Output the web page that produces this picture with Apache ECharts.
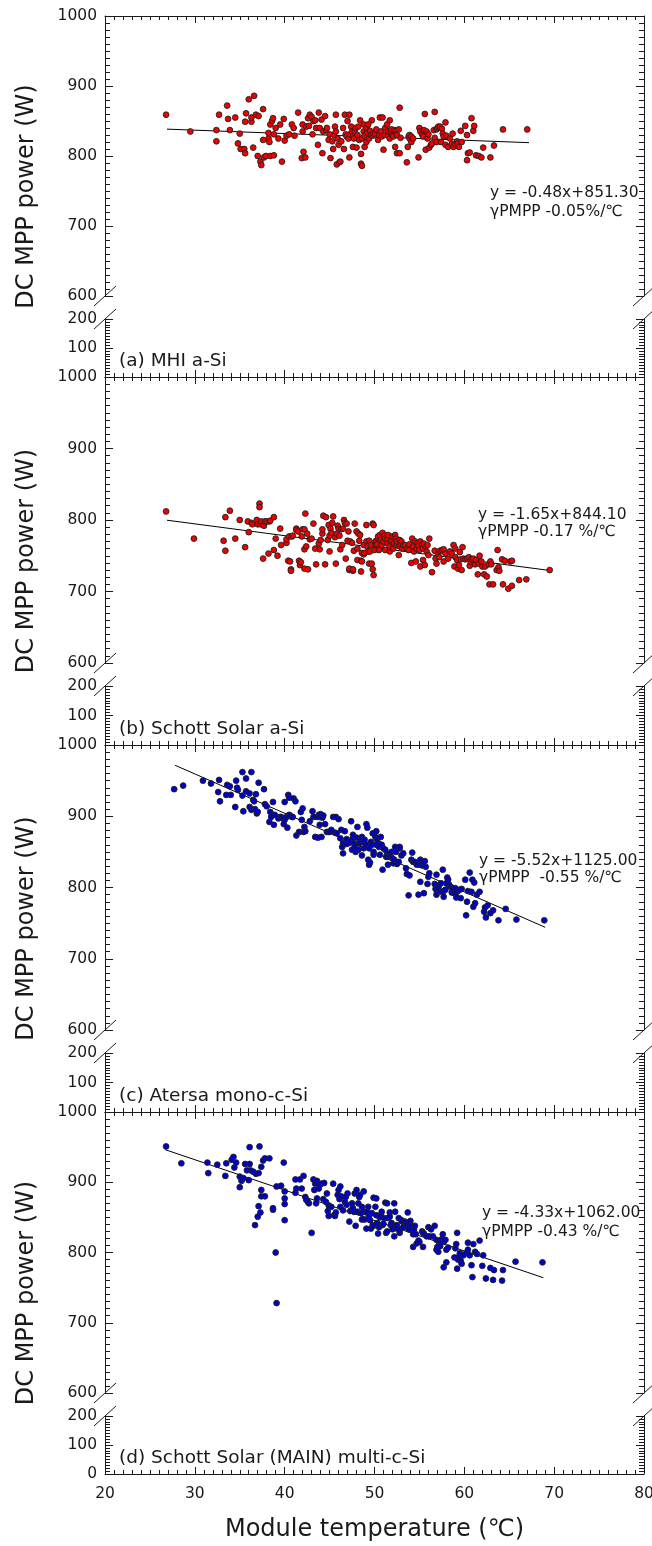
<!DOCTYPE html>
<html>
<head>
<meta charset="utf-8">
<script src="https://cdn.jsdelivr.net/npm/echarts@6/dist/echarts.min.js"></script>
<style>
  html, body { margin: 0; padding: 0; background: #fff; }
  #wrap { position: relative; width: 652px; height: 1546px; }
  #frame, #plot { position: absolute; left: 0; top: 0; width: 652px; height: 1546px; }
</style>
</head>
<body>
<div id="wrap">
  <div id="frame"></div>
  <div id="plot"></div>
</div>
<script>
// ---- Data: module temperature (°C) vs DC MPP power (W) -------------------
const panelNames = ['(a) MHI a-Si', '(b) Schott Solar a-Si', '(c) Atersa mono-c-Si', '(d) Schott Solar (MAIN) multi-c-Si'];
const fitText = [
  ['y = -0.48x+851.30', 'γPMPP -0.05%/℃'],
  ['y = -1.65x+844.10', 'γPMPP -0.17 %/℃'],
  ['y = -5.52x+1125.00', 'γPMPP  -0.55 %/℃'],
  ['y = -4.33x+1062.00', 'γPMPP -0.43 %/℃']
];
const fitSlope = [-0.48, -1.65, -5.52, -4.33];
const fitIntercept = [851.30, 844.10, 1125.00, 1062.00];
const fitRange = [[26.9, 67.2], [26.9, 69.5], [27.8, 69.0], [26.7, 68.8]];

const pointsA = [[26.8,859],[29.5,835],[32.4,837],[32.4,821],[32.7,859],[33.6,872],[33.7,853],[33.9,837],[34.5,855],[34.8,818],[35.0,832],[35.1,810],[35.5,810],[35.6,804],[35.6,849],[35.7,861],[36.0,881],[36.3,849],[36.3,855],[36.5,812],[36.6,886],[36.8,859],[37.0,800],[37.1,857],[37.3,792],[37.4,787],[37.6,867],[37.6,823],[37.7,798],[37.9,800],[38.2,825],[38.2,833],[38.3,820],[38.4,845],[38.4,800],[38.6,850],[38.7,854],[38.8,801],[38.8,831],[39.0,840],[39.3,825],[39.5,845],[39.7,792],[39.9,853],[40.0,822],[40.2,829],[40.5,831],[40.8,845],[41.0,840],[41.1,829],[41.5,862],[41.9,797],[42.0,835],[42.0,845],[42.1,806],[42.3,798],[42.4,842],[42.6,854],[42.7,843],[42.8,859],[43.0,856],[43.1,831],[43.2,850],[43.4,851],[43.5,840],[43.7,816],[43.8,862],[43.9,840],[44.1,852],[44.2,804],[44.3,835],[44.5,857],[44.6,837],[44.7,840],[44.9,823],[45.0,831],[45.1,797],[45.3,821],[45.4,810],[45.5,830],[45.6,842],[45.7,859],[45.7,835],[45.8,788],[45.9,825],[46.0,816],[46.1,791],[46.2,792],[46.3,821],[46.5,840],[46.6,810],[46.7,859],[46.8,831],[46.9,828],[47.0,850],[47.1,825],[47.2,859],[47.2,798],[47.3,831],[47.4,842],[47.5,835],[47.6,828],[47.6,813],[47.7,825],[47.8,835],[47.9,840],[48.0,812],[48.1,830],[48.2,842],[48.3,823],[48.4,851],[48.5,789],[48.5,803],[48.6,786],[48.6,825],[48.8,835],[48.8,845],[48.9,829],[48.9,813],[49.1,840],[49.1,820],[49.2,833],[49.3,845],[49.4,825],[49.5,836],[49.6,830],[49.7,851],[49.8,829],[49.9,832],[50.1,831],[50.2,838],[50.4,823],[50.5,830],[50.6,855],[50.7,835],[50.8,828],[50.9,855],[51.0,809],[51.1,830],[51.2,840],[51.4,845],[51.5,829],[51.5,835],[51.7,851],[51.7,825],[51.8,835],[51.9,838],[52.0,830],[52.1,828],[52.2,837],[52.3,813],[52.4,836],[52.5,804],[52.5,830],[52.7,838],[52.8,869],[52.8,804],[52.9,826],[53.6,791],[53.7,813],[53.8,828],[53.9,825],[53.9,830],[54.1,820],[54.1,828],[54.3,825],[54.9,798],[55.0,840],[55.1,835],[55.3,831],[55.4,828],[55.5,837],[55.6,860],[55.7,809],[55.8,835],[55.9,825],[56.0,831],[56.1,812],[56.3,816],[56.4,818],[56.6,837],[56.7,863],[56.7,826],[56.9,838],[56.9,820],[57.0,840],[57.1,842],[57.3,842],[57.4,820],[57.5,839],[57.6,832],[57.7,828],[57.9,848],[57.9,816],[58.0,829],[58.2,813],[58.4,825],[58.6,817],[58.7,832],[58.8,813],[59.0,817],[59.2,821],[59.3,818],[59.4,813],[59.6,836],[59.7,820],[60.1,843],[60.3,794],[60.3,830],[60.4,804],[60.6,805],[60.8,854],[61.0,836],[61.1,843],[61.3,801],[61.6,800],[61.9,798],[62.1,812],[62.9,798],[63.3,815],[64.3,838],[67.0,838]];

const pointsB = [[26.8,812],[29.9,774],[33.2,771],[33.4,804],[33.4,757],[33.9,813],[34.5,774],[35.0,800],[35.6,762],[35.9,798],[36.0,783],[36.3,796],[36.4,794],[36.9,800],[37.0,794],[37.2,823],[37.2,818],[37.3,794],[37.4,798],[37.6,746],[37.7,792],[37.8,798],[38.0,798],[38.2,753],[38.3,798],[38.4,799],[38.8,804],[38.8,758],[39.0,774],[39.2,750],[39.5,788],[39.6,765],[40.2,768],[40.2,773],[40.4,743],[40.5,777],[40.6,742],[40.7,731],[40.7,729],[40.8,777],[40.9,778],[41.3,788],[41.3,786],[41.5,784],[41.6,743],[41.7,737],[41.8,741],[41.9,777],[42.0,787],[42.2,732],[42.2,759],[42.2,787],[42.3,809],[42.4,763],[42.5,781],[42.6,731],[42.8,773],[43.0,774],[43.2,795],[43.4,760],[43.5,738],[43.8,767],[43.9,759],[44.0,772],[44.2,781],[44.2,787],[44.3,806],[44.5,738],[44.6,804],[44.8,772],[44.9,793],[45.0,778],[45.0,756],[45.1,788],[45.2,782],[45.3,796],[45.4,805],[45.6,776],[45.7,739],[45.8,781],[45.9,792],[46.0,788],[46.1,778],[46.2,759],[46.3,787],[46.4,765],[46.5,788],[46.6,800],[46.7,796],[46.8,746],[46.9,795],[47.0,771],[47.1,784],[47.2,730],[47.2,732],[47.3,770],[47.5,768],[47.6,729],[47.6,731],[47.7,757],[47.8,795],[48.0,784],[48.1,744],[48.1,760],[48.2,781],[48.3,771],[48.4,779],[48.5,728],[48.5,743],[48.6,754],[48.6,742],[48.8,765],[48.8,752],[48.9,754],[49.1,793],[49.1,770],[49.2,763],[49.3,756],[49.4,771],[49.4,739],[49.5,756],[49.6,765],[49.7,739],[49.8,731],[49.8,795],[49.9,723],[49.9,793],[50.0,758],[50.1,766],[50.1,770],[50.2,771],[50.3,766],[50.4,774],[50.4,777],[50.5,758],[50.6,779],[50.7,772],[50.8,765],[50.9,782],[51.0,770],[51.1,778],[51.2,758],[51.2,774],[51.4,772],[51.5,767],[51.5,779],[51.7,756],[51.7,763],[51.8,770],[51.9,772],[52.0,777],[52.1,760],[52.2,767],[52.3,779],[52.4,774],[52.5,765],[52.5,770],[52.7,751],[52.8,772],[52.8,763],[52.9,767],[53.0,770],[53.1,760],[53.2,765],[53.4,765],[53.6,760],[53.8,758],[53.9,766],[54.1,740],[54.2,774],[54.3,763],[54.4,756],[54.5,770],[54.6,742],[54.7,760],[54.8,768],[54.9,764],[55.0,758],[55.1,735],[55.1,770],[55.3,766],[55.4,760],[55.4,744],[55.5,767],[55.6,737],[55.7,763],[55.8,756],[55.9,765],[56.0,751],[56.1,774],[56.4,727],[56.7,757],[56.8,746],[56.9,739],[57.1,753],[57.2,748],[57.3,757],[57.5,758],[57.7,742],[57.7,759],[57.9,753],[58.2,746],[58.4,756],[58.6,753],[58.8,765],[58.9,735],[59.0,760],[59.0,748],[59.2,744],[59.3,732],[59.4,737],[59.5,755],[59.6,745],[59.7,730],[59.8,762],[59.9,746],[60.1,745],[60.3,746],[60.5,748],[60.6,736],[60.7,742],[60.8,745],[61.0,746],[61.2,738],[61.3,744],[61.5,724],[61.6,739],[61.7,750],[61.9,742],[62.0,735],[62.2,724],[62.3,735],[62.5,721],[62.7,738],[62.8,710],[62.9,742],[63.0,738],[63.2,710],[63.6,730],[63.7,758],[63.8,734],[63.9,729],[64.2,745],[64.3,710],[64.5,743],[64.9,704],[65.1,742],[65.3,708],[65.3,743],[66.1,716],[66.9,717],[69.5,730]];

const pointsC = [[27.7,938],[28.7,943],[30.9,950],[31.8,946],[32.7,951],[33.6,944],[34.6,950],[35.3,962],[35.7,953],[36.3,962],[37.1,947],[32.6,934],[32.8,921],[33.5,930],[34.0,930],[33.9,942],[34.5,913],[34.7,940],[34.8,937],[35.3,929],[35.4,907],[35.7,935],[36.1,913],[36.1,932],[36.3,909],[36.5,923],[36.6,921],[36.7,910],[36.8,931],[36.9,904],[37.0,906],[37.7,938],[37.8,917],[38.0,914],[38.3,892],[38.4,906],[38.5,899],[38.7,920],[38.8,888],[38.9,902],[39.3,897],[39.5,899],[39.6,899],[39.8,897],[39.9,889],[40.0,920],[40.0,895],[40.2,899],[40.3,884],[40.4,930],[40.5,902],[40.5,926],[40.6,901],[40.8,899],[40.9,899],[41.0,925],[41.2,921],[41.3,873],[41.6,878],[41.8,906],[41.9,895],[42.0,911],[42.1,878],[42.2,885],[42.3,879],[42.8,893],[43.1,907],[43.2,899],[43.4,871],[43.6,899],[43.7,870],[43.8,902],[43.9,888],[43.9,899],[44.0,903],[44.1,871],[44.2,898],[44.3,901],[44.5,889],[44.7,878],[44.9,878],[45.0,878],[45.2,881],[45.4,899],[45.6,877],[45.7,899],[45.8,876],[46.0,896],[46.2,869],[46.3,881],[46.4,857],[46.5,862],[46.5,848],[46.7,879],[46.8,861],[46.9,868],[47.1,862],[47.3,865],[47.4,893],[47.5,853],[47.6,870],[47.6,874],[47.7,862],[47.8,857],[47.9,850],[48.0,870],[48.1,885],[48.2,853],[48.3,862],[48.4,864],[48.5,869],[48.6,845],[48.6,871],[48.8,855],[48.8,864],[48.9,867],[49.1,889],[49.1,860],[49.2,884],[49.3,839],[49.4,832],[49.4,855],[49.5,835],[49.6,864],[49.7,860],[49.8,876],[49.9,850],[49.9,846],[50.1,871],[50.2,860],[50.2,879],[50.3,867],[50.4,862],[50.5,857],[50.6,846],[50.7,871],[50.8,860],[50.9,825],[51.0,855],[51.2,853],[51.3,843],[51.4,846],[51.4,843],[51.5,832],[51.7,848],[51.7,843],[51.8,843],[51.9,850],[52.0,841],[52.1,834],[52.2,839],[52.3,857],[52.4,850],[52.5,835],[52.5,833],[52.7,836],[52.8,855],[52.8,857],[53.0,845],[53.2,848],[53.5,827],[53.6,819],[53.8,789],[53.9,817],[54.1,839],[54.2,849],[54.3,836],[54.5,836],[54.7,832],[54.9,790],[55.0,832],[55.1,839],[55.1,808],[55.3,831],[55.4,834],[55.5,792],[55.6,837],[55.7,829],[55.9,805],[56.0,815],[56.1,820],[56.7,805],[56.8,798],[56.9,790],[56.9,818],[57.0,794],[57.1,799],[57.2,803],[57.4,806],[57.5,794],[57.6,825],[57.7,787],[57.7,795],[57.9,797],[58.0,806],[58.1,814],[58.2,811],[58.3,804],[58.5,801],[58.6,793],[58.7,799],[58.9,792],[59.0,799],[59.1,786],[59.2,794],[59.5,797],[59.6,785],[59.7,798],[60.1,811],[60.2,761],[60.3,780],[60.4,795],[60.6,821],[60.8,794],[60.9,811],[61.0,773],[61.1,807],[61.2,778],[61.4,790],[61.7,794],[62.2,766],[62.3,772],[62.4,758],[62.6,775],[62.9,764],[63.2,768],[63.8,754],[64.6,770],[65.8,755],[68.9,754]];

const pointsD = [[26.8,951],[28.5,927],[31.4,928],[31.5,913],[32.5,925],[33.4,909],[33.5,927],[34.1,932],[34.3,936],[34.4,921],[34.6,928],[35.0,893],[35.0,908],[35.2,902],[35.4,906],[35.6,926],[35.8,917],[36.0,903],[36.1,926],[36.1,950],[36.2,917],[36.5,915],[36.7,839],[36.8,912],[37.0,851],[37.1,866],[37.1,913],[37.2,951],[37.3,857],[37.4,880],[37.4,889],[37.4,922],[37.6,931],[37.8,934],[37.8,880],[38.3,934],[38.7,861],[38.7,863],[39.0,800],[39.1,894],[39.1,728],[39.6,895],[39.9,928],[40.0,846],[40.0,869],[40.0,877],[40.0,887],[41.2,904],[41.2,885],[41.3,891],[41.7,904],[41.9,891],[42.1,909],[42.3,879],[42.4,875],[42.6,872],[42.7,870],[43.0,828],[43.2,904],[43.3,889],[43.4,898],[43.5,870],[43.6,902],[43.6,877],[43.8,891],[43.9,896],[44.1,898],[44.3,876],[44.4,899],[44.6,872],[44.7,884],[44.8,859],[44.9,852],[44.9,867],[45.0,865],[45.2,865],[45.4,898],[45.5,853],[45.6,852],[45.7,857],[45.9,882],[46.0,889],[46.1,876],[46.2,894],[46.2,865],[46.3,880],[46.5,860],[46.7,872],[46.8,879],[46.9,868],[47.0,884],[47.2,844],[47.3,859],[47.4,860],[47.5,870],[47.6,863],[47.7,858],[47.8,884],[47.9,838],[48.0,889],[48.1,858],[48.2,870],[48.3,879],[48.4,882],[48.5,856],[48.6,847],[48.6,865],[48.8,858],[48.8,887],[48.9,847],[49.1,834],[49.1,857],[49.2,858],[49.3,865],[49.4,852],[49.5,846],[49.6,834],[49.7,856],[49.8,839],[49.9,878],[49.9,838],[50.1,865],[50.2,877],[50.2,853],[50.3,842],[50.4,827],[50.5,836],[50.6,850],[50.7,853],[50.8,858],[50.9,839],[51.0,841],[51.1,849],[51.2,871],[51.3,828],[51.4,870],[51.4,830],[51.5,849],[51.7,857],[51.7,851],[51.8,839],[51.9,842],[52.0,833],[52.1,836],[52.2,823],[52.2,870],[52.3,858],[52.4,838],[52.5,839],[52.5,834],[52.7,849],[52.8,828],[52.8,832],[53.0,846],[53.1,844],[53.2,836],[53.4,844],[53.5,841],[53.6,838],[53.7,857],[53.8,833],[53.9,841],[53.9,833],[54.0,845],[54.1,838],[54.3,808],[54.3,826],[54.4,833],[54.5,838],[54.6,826],[54.7,813],[54.9,817],[55.0,815],[55.3,830],[55.4,828],[55.4,808],[55.5,827],[55.8,823],[56.0,836],[56.1,823],[56.3,833],[56.5,823],[56.7,838],[56.9,804],[56.9,818],[57.0,808],[57.1,801],[57.2,815],[57.3,809],[57.4,817],[57.5,819],[57.6,826],[57.7,779],[57.7,815],[57.9,818],[58.0,786],[58.0,804],[58.2,807],[58.9,793],[59.0,806],[59.1,812],[59.2,777],[59.2,828],[59.3,790],[59.4,794],[59.5,799],[59.6,788],[59.7,784],[59.9,796],[60.2,799],[60.4,814],[60.4,804],[60.6,796],[60.8,782],[60.9,765],[61.0,812],[61.2,801],[61.4,798],[61.7,817],[62.0,781],[62.1,796],[62.4,763],[62.9,778],[63.2,761],[63.3,775],[64.2,760],[64.3,775],[65.7,787],[68.7,786]];

const panelPoints = [pointsA, pointsB, pointsC, pointsD];
const markerFill = ['#ee0000', '#ee0000', '#0000cc', '#0000cc'];

// ---- Layout -------------------------------------------------------------
const plotLeft = 105, plotWidth = 539;
const panelTop = [16, 377, 745, 1112];
const panelBottom = [377, 745, 1112, 1474];
const upperShare = 0.776, lowerShare = 0.161;
const fontFamily = '"DejaVu Sans", "Noto Sans CJK SC", sans-serif';
const ink = '#1a1a1a';
// annotation: left x, centre of first line, centre of second line
const annotPos = [[490, 193, 212], [478, 515, 532], [479, 861, 878], [482, 1213, 1232]];

function panelBox(p) {
  const T = panelTop[p], B = panelBottom[p], H = B - T;
  const upH = Math.round(H * upperShare);
  const loH = Math.round(H * lowerShare);
  return { T, B, upH, loH, loTop: B - loH };
}
function tickCfg(len) {
  return {
    axisLine: { show: true, onZero: false, lineStyle: { color: ink, width: 1 } },
    axisTick: { show: true, inside: true, length: len, lineStyle: { color: ink, width: 1 } },
    minorTick: { show: true, splitNumber: 10, length: Math.round(len * 0.6), lineStyle: { color: ink, width: 1 } },
    splitLine: { show: false },
    minorSplitLine: { show: false }
  };
}
const plainNumber = v => String(v);

// ---- Frame chart: broken axes, ticks and tick labels ---------------------
const fGrids = [], fX = [], fY = [];
for (let p = 0; p < 4; p++) {
  const b = panelBox(p);
  const gU = 2 * p, gL = 2 * p + 1, isLast = p === 3;
  fGrids.push({ left: plotLeft, width: plotWidth, top: b.T, height: b.upH, outerBoundsMode: 'none' });
  fGrids.push({ left: plotLeft, width: plotWidth, top: b.loTop, height: b.loH, outerBoundsMode: 'none' });
  fX.push(Object.assign({ type: 'value', gridIndex: gU, position: 'top', min: 20, max: 80, interval: 10,
    axisLabel: { show: false } }, tickCfg(7)));
  fX.push(Object.assign({ type: 'value', gridIndex: gL, position: 'bottom', min: 20, max: 80, interval: 10,
    axisLabel: { show: isLast, margin: 12, fontSize: 15.5, fontFamily: fontFamily, color: ink },
    name: isLast ? 'Module temperature (℃)' : '', nameLocation: 'middle', nameGap: 44,
    nameTextStyle: { fontSize: 24, fontFamily: fontFamily, color: ink } }, tickCfg(7)));
  const yLabel = { margin: 8, fontSize: 15.5, fontFamily: fontFamily, color: ink, formatter: plainNumber };
  fY.push(Object.assign({ type: 'value', gridIndex: gU, position: 'left', min: 600, max: 1000, interval: 100,
    axisLabel: Object.assign({ show: true }, yLabel) }, tickCfg(8)));
  fY.push(Object.assign({ type: 'value', gridIndex: gU, position: 'right', min: 600, max: 1000, interval: 100,
    axisLabel: { show: false } }, tickCfg(8)));
  fY.push(Object.assign({ type: 'value', gridIndex: gL, position: 'left', min: 0, max: 200, interval: 100,
    axisLabel: Object.assign({ show: true, showMinLabel: isLast }, yLabel) }, tickCfg(8)));
  fY.push(Object.assign({ type: 'value', gridIndex: gL, position: 'right', min: 0, max: 200, interval: 100,
    axisLabel: { show: false } }, tickCfg(8)));
}
const frameOption = {
  animation: false,
  backgroundColor: '#ffffff',
  grid: fGrids, xAxis: fX, yAxis: fY,
  series: [{ type: 'scatter', xAxisIndex: 0, yAxisIndex: 0, data: [] }]
};

// ---- Plot chart: points, fits and text, on the same scales ---------------
const pGrids = [], pX = [], pY = [], pSeries = [], pGraphic = [];
for (let p = 0; p < 4; p++) {
  const b = panelBox(p);
  pGrids.push({ left: plotLeft, width: plotWidth, top: b.T, height: b.upH, outerBoundsMode: 'none' });
  pX.push({ type: 'value', gridIndex: p, min: 20, max: 80, show: false, splitLine: { show: false } });
  pY.push({ type: 'value', gridIndex: p, min: 600, max: 1000, show: false, splitLine: { show: false } });

  const r = fitRange[p];
  pSeries.push({
    type: 'line', xAxisIndex: p, yAxisIndex: p, symbol: 'none', z: 2,
    lineStyle: { color: '#000', width: 1 },
    data: r.map(x => [x, fitIntercept[p] + fitSlope[p] * x])
  });
  pSeries.push({
    type: 'scatter', xAxisIndex: p, yAxisIndex: p, symbol: 'circle', symbolSize: 5.8, z: 3,
    itemStyle: { color: markerFill[p], borderColor: '#202020', borderWidth: 0.9, opacity: 1 },
    data: panelPoints[p]
  });

  pGraphic.push({
    type: 'text', x: 27, y: (b.T + b.B) / 2, rotation: Math.PI / 2,
    style: { text: 'DC MPP power (W)', fontSize: 24, fontFamily: fontFamily, fill: ink,
             align: 'center', verticalAlign: 'middle' }
  });
  pGraphic.push({
    type: 'text', x: 119, y: b.B - 16,
    style: { text: panelNames[p], fontSize: 18.5, fontFamily: fontFamily, fill: ink,
             align: 'left', verticalAlign: 'middle' }
  });
  const a = annotPos[p];
  [1, 2].forEach(k => {
    pGraphic.push({
      type: 'text', x: a[0], y: a[k],
      style: { text: fitText[p][k - 1], fontSize: 15.5, fontFamily: fontFamily, fill: ink,
               align: 'left', verticalAlign: 'middle' }
    });
  });
  // axis-break slashes on both y axes
  [plotLeft, plotLeft + plotWidth].forEach(bx => {
    [b.T + b.upH, b.loTop].forEach(by => {
      pGraphic.push({
        type: 'line', silent: true,
        shape: { x1: bx - 11, y1: by + 10, x2: bx + 11, y2: by - 10 },
        style: { stroke: ink, lineWidth: 1 }
      });
    });
  });
}
const plotOption = {
  animation: false,
  backgroundColor: 'transparent',
  grid: pGrids, xAxis: pX, yAxis: pY,
  series: pSeries,
  graphic: pGraphic
};

const frameChart = echarts.init(document.getElementById('frame'));
const plotChart = echarts.init(document.getElementById('plot'));
function drawAll() {
  frameChart.setOption(frameOption, true);
  plotChart.setOption(plotOption, true);
  frameChart.resize();
  plotChart.resize();
  frameChart.getZr().refreshImmediately();
  plotChart.getZr().refreshImmediately();
}
drawAll();
// repaint once fonts and layout have settled
if (document.fonts && document.fonts.ready) document.fonts.ready.then(drawAll);
window.addEventListener('load', drawAll);
requestAnimationFrame(() => requestAnimationFrame(drawAll));
</script>
</body>
</html>
